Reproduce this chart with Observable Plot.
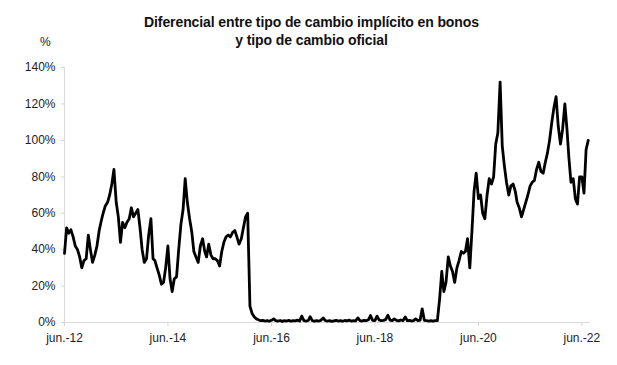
<!DOCTYPE html>
<html>
<head>
<meta charset="utf-8">
<script src="https://cdn.jsdelivr.net/npm/d3@7"></script>
<script src="https://cdn.jsdelivr.net/npm/@observablehq/plot@0.6"></script>
<style>
  body { margin: 0; background: #fff; font-family: "Liberation Sans", Arial, sans-serif; }
  #wrap { position: relative; width: 617px; height: 365px; overflow: hidden; }
  #title { height: 49px; box-sizing: border-box; padding: 13px 0 0 6px; text-align: center;
           font-weight: bold; font-size: 14px; line-height: 18px; color: #111; letter-spacing: -0.1px; }
  #pct { position: absolute; left: 40px; top: 35px; font-size: 12px; color: #222; }
</style>
</head>
<body>
<div id="wrap">
  <div id="title">Diferencial entre tipo de cambio implícito en bonos<br>y tipo de cambio oficial</div>
  <div id="pct">%</div>
  <div id="chart"></div>
</div>
<script>
// Semi-monthly readings (1st and 16th of each month), in %
const v2012 = [38,52,49,51,47,42,40,36,30,34,35,48,40,33];
const v2013 = [37,42,50.5,56,60,64,66,70,76,84,66,58,44,55,52,55,57,63,58,60,62,52,40,33];
const v2014 = [35,48,57,35,34,30,26,21,22,30,42,24,17,24,25,40,54,62,79,66,57,50,39,36];
const v2015 = [33,42,46,39,36,43,37,35,35,34,31,39,44,47,48,47,49.5,50.5,47,43,46,52,58,60];
const v2016 = [9,5,3,2,1.5,1,1.2,0.8,1,0.7,1.2,2,1,0.8,1.1,0.6,1,0.8,1.2,0.7,1,0.9,1.3,0.8];
const v2017 = [3.5,1,0.8,1.1,3.2,1,0.7,1,0.8,1.2,2.5,1,0.8,1,0.6,0.9,1.2,0.8,1,0.7,1.1,0.9,1.3,0.8];
const v2018 = [1,0.9,2.5,1,0.8,1.2,1,1.5,3.8,1.2,1,3.5,1.4,1,1.2,1.6,4,1.3,1,2,1.2,0.9,1.4,1];
const v2019 = [3,1,1.2,0.8,1,2,1,1.3,7.5,1.2,1,0.8,1,0.7,1,1,13,28,17,22,36,31,28,22];
const v2020 = [30,34,39,38,39,46,30,50,72,82,68,70,60,57,70,79,76,80,98,104,132,97,86,77];
const v2021 = [70,75,76,72,66,63,58,62,66,70,75,77,78,84,88,83,82,88,93,100,110,118,124,108];
const v2022 = [98,106,120,106,91,77,79,68,65,80,80,71,95,100];

const startMonth2012 = 5; // series starts June 2012
const xTickYears = [2012, 2014, 2016, 2018, 2020, 2022];
const yTicks = [0, 20, 40, 60, 80, 100, 120, 140];

const blocks = [[2012, v2012],[2013, v2013],[2014, v2014],[2015, v2015],[2016, v2016],[2017, v2017],
                [2018, v2018],[2019, v2019],[2020, v2020],[2021, v2021],[2022, v2022]];
const data = [];
for (const [yr, vals] of blocks) {
  const m0 = yr === 2012 ? startMonth2012 : 0;
  vals.forEach((v, i) => {
    data.push({date: new Date(Date.UTC(yr, m0 + Math.floor(i / 2), i % 2 ? 16 : 1)), value: v});
  });
}

const x0 = new Date(Date.UTC(2012, 5, 1));
const x1 = new Date(Date.UTC(2022, 7, 1));
const tickDates = xTickYears.map(y => new Date(Date.UTC(y, 5, 1)));

const chart = Plot.plot({
  width: 617,
  height: 316,
  marginTop: 18,
  marginBottom: 43,
  marginLeft: 64,
  marginRight: 27,
  style: {fontFamily: "'Liberation Sans', Arial, sans-serif", fontSize: "12px", background: "white", color: "#222"},
  x: {type: "utc", domain: [x0, x1]},
  y: {domain: [0, 140]},
  marks: [
    Plot.axisX({ticks: tickDates, tickFormat: d => "jun.-" + String(d.getUTCFullYear()).slice(2),
                tickSize: 4, tickPadding: 7, stroke: "#d4d4d4", fill: "#222", label: null, fontSize: 12}),
    Plot.axisY({ticks: yTicks, tickFormat: d => d + "%", tickSize: 3, tickPadding: 6,
                stroke: "#d4d4d4", fill: "#222", label: null, fontSize: 12}),
    Plot.ruleY([0], {stroke: "#d9d9d9"}),
    Plot.ruleX([x0], {stroke: "#d9d9d9"}),
    Plot.lineY(data, {x: "date", y: "value", stroke: "#000", strokeWidth: 2.8, strokeLinejoin: "round"})
  ]
});
document.getElementById("chart").appendChild(chart);
</script>
</body>
</html>
